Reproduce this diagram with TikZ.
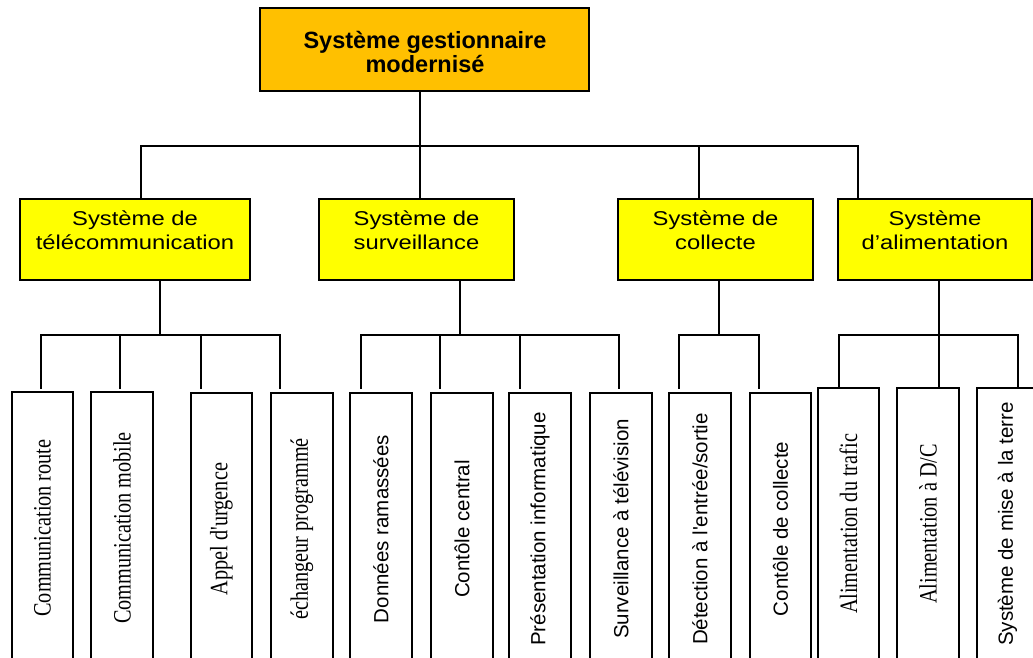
\documentclass[tikz,border=0pt]{standalone}
\usepackage{fontspec}
\newfontfamily\sansA{Liberation Sans}
\newfontfamily\sansW[FakeStretch=1.19]{Liberation Sans}
\newfontfamily\serifA[FakeStretch=0.81]{Liberation Serif}
\definecolor{topfill}{HTML}{FFC000}
\definecolor{sysfill}{HTML}{FFFF00}
\begin{document}
\begin{tikzpicture}[x=1pt,y=-1pt,
  thickln/.style={line width=2pt,line cap=rect},
  thinln/.style={line width=1.1pt,line cap=rect},
  topbox/.style={draw=black,line width=2pt,fill=topfill,minimum width=329pt,minimum height=83pt,inner sep=0pt},
  toptext/.style={anchor=north,inner sep=0pt,align=center,font=\sansA\bfseries\fontsize{23.5}{21}\selectfont},
  sysbox/.style={draw=black,line width=2pt,fill=sysfill,minimum height=81pt,inner sep=0pt},
  systext/.style={anchor=north,inner sep=0pt,align=center,font=\sansW\fontsize{20}{24}\selectfont},
  leaf/.style={draw=black,line width=2pt,fill=white,rotate=90,minimum width=272pt,minimum height=61.5pt,inner sep=0pt},
  leafserif/.style={leaf,font=\serifA\fontsize{25}{28}\selectfont},
  leafsans/.style={leaf,font=\sansA\fontsize{20.5}{24}\selectfont},
]
\useasboundingbox (0,0) rectangle (1033,658);
\clip (0,0) rectangle (1033,658);
% root
\node[topbox] (root) at (424.5,49.5) {};
\node[toptext] (roott) at (425,31.5) {Système gestionnaire\\modernisé};
% level 2
\node[sysbox,minimum width=230pt] (tel) at (135,239.5) {};
\node[sysbox,minimum width=195pt] (sur) at (416.5,239.5) {};
\node[sysbox,minimum width=195pt] (col) at (715.5,239.5) {};
\node[sysbox,minimum width=194pt] (ali) at (935,239.5) {};
\node[systext] (telt) at (135,211) {Système de\\télécommunication};
\node[systext] (surt) at (416.5,211) {Système de\\surveillance};
\node[systext] (colt) at (715.5,211) {Système de\\collecte};
\node[systext] (alit) at (935,211) {Système\\d’alimentation};
% leaves
\node[leafserif] (l1) at (42.5,528) {Communication route};
\node[leafserif] (l2) at (122,528) {Communication mobile};
\node[leafserif] (l3) at (221.5,529) {Appel d'urgence};
\node[leafserif] (l4) at (302,529) {échangeur programmé};
\node[leafsans] (l5) at (381,529) {Données ramassées};
\node[leafsans] (l6) at (462,529) {Contôle central};
\node[leafsans] (l7) at (540,529) {Présentation informatique};
\node[leafsans] (l8) at (621,529) {Surveillance à télévision};
\node[leafsans] (l9) at (700,529) {Détection à l'entrée/sortie};
\node[leafsans] (l10) at (780.5,529) {Contôle de collecte};
\node[leafserif] (l11) at (848.5,524) {Alimentation du trafic};
\node[leafserif] (l12) at (928,524) {Alimentation à D/C};
\node[leafsans] (l13) at (1007.5,524) {Système de mise à la terre};
% level 1 connectors
\coordinate (b1) at (141,146);
\coordinate (b2) at (420,146);
\coordinate (b3) at (699,146);
\coordinate (b4) at (858,146);
\draw[thinln] (root.south -| b2) -- (b2);
\draw[thickln] (b1) -- (b4);
\draw[thickln] (b1) -- (tel.north -| b1);
\draw[thinln] (b2) -- (sur.north -| b2);
\draw[thickln] (b3) -- (col.north -| b3);
\draw[thinln] (b4) -- (ali.north -| b4);
% level 2 to leaves
\coordinate (tj) at (160,335);
\coordinate (sj) at (460,335);
\coordinate (cj) at (719,335);
\coordinate (aj) at (939,335);
\draw[thickln] (tel.south -| tj) -- (tj);
\draw[thickln] (sur.south -| sj) -- (sj);
\draw[thickln] (col.south -| cj) -- (cj);
\draw[thickln] (ali.south -| aj) -- (aj);
\draw[thickln] (41,335) coordinate (t1) -- (280,335) coordinate (t4);
\draw[thickln] (361,335) coordinate (s1) -- (619,335) coordinate (s4);
\draw[thickln] (679,335) coordinate (c1) -- (759,335) coordinate (c2);
\draw[thickln] (839,335) coordinate (a1) -- (1018,335) coordinate (a3);
\foreach \x/\w in {41/thinln,120/thickln,201/thickln,280/thickln,
                   361/thickln,440/thinln,520/thickln,619/thinln,
                   679/thickln,759/thickln,
                   839/thinln,939/thickln,1018/thickln}{
  \draw[\w] (\x,335) -- (\x,388);
}
\end{tikzpicture}
\end{document}
